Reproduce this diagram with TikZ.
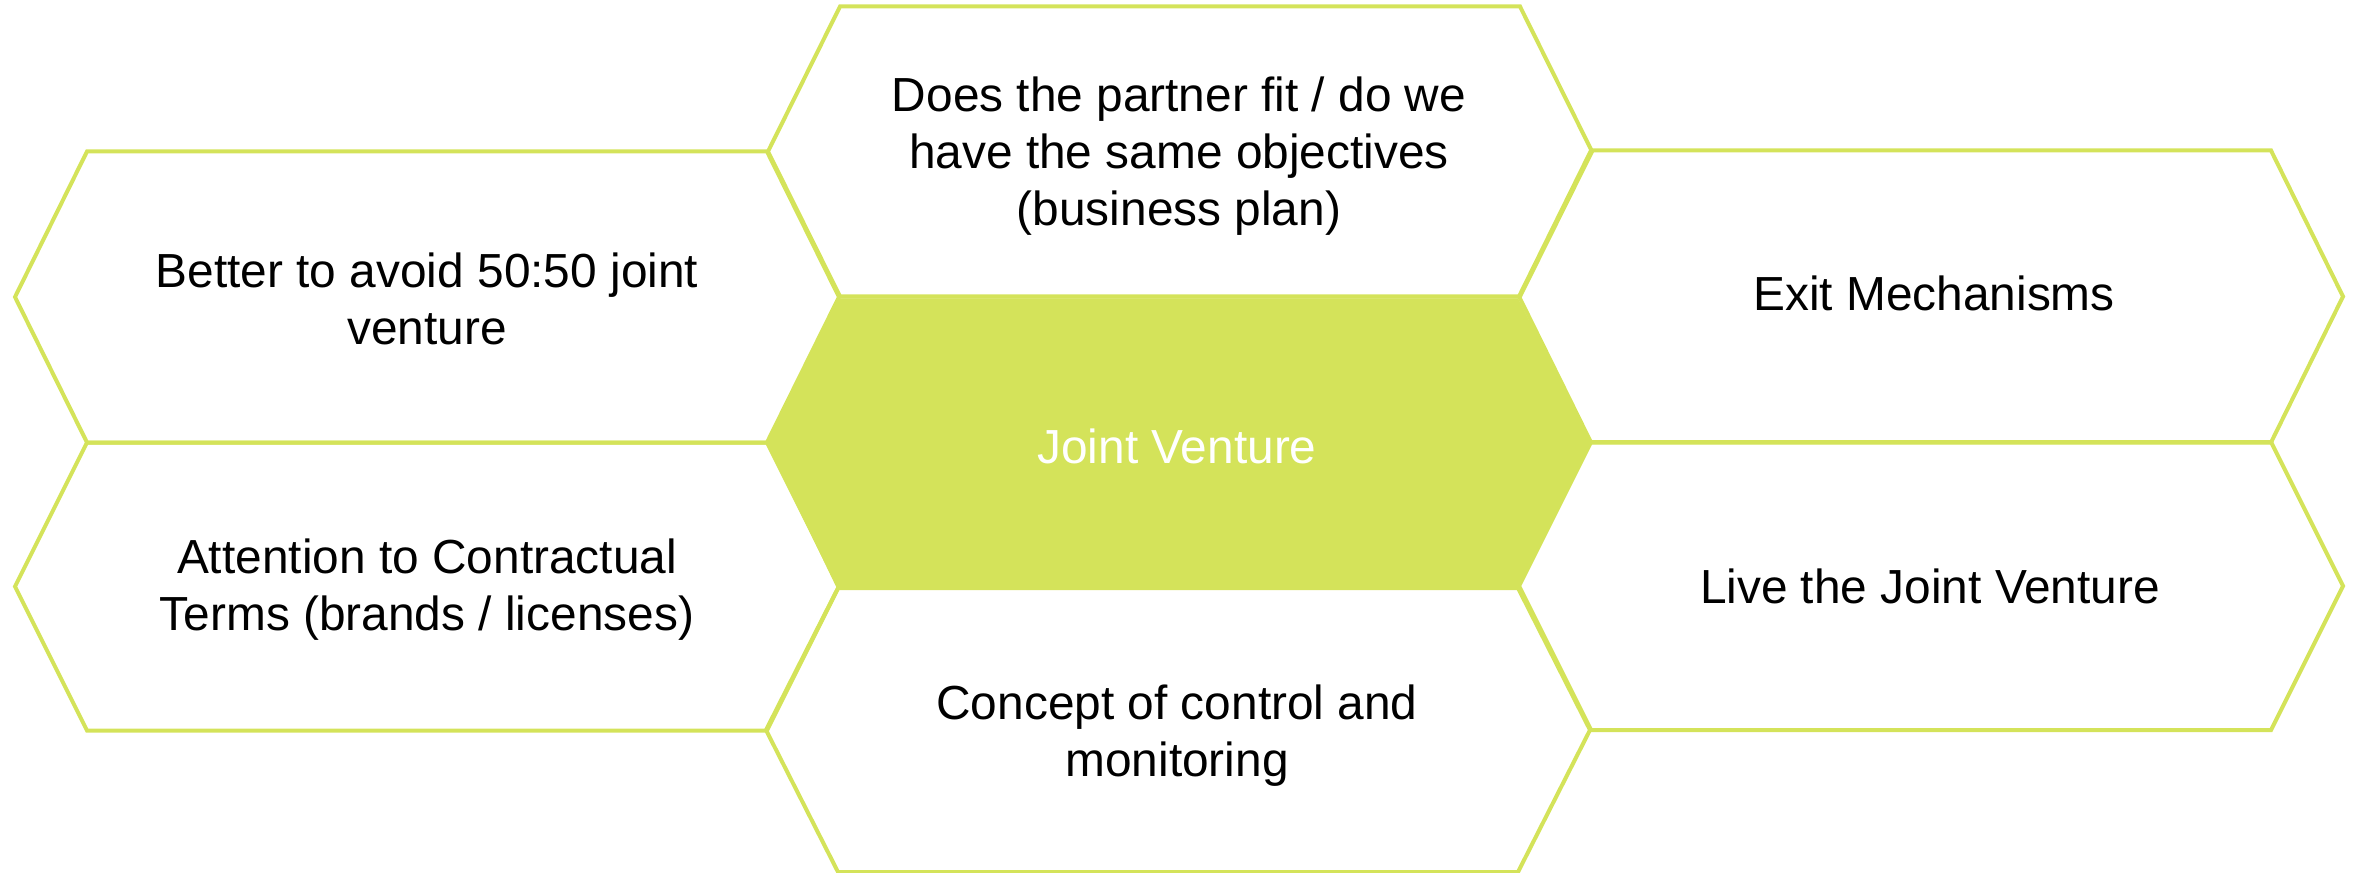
\documentclass[tikz,border=0pt]{standalone}
\usepackage{fontspec}
\setmainfont{Liberation Sans}
\definecolor{lime}{HTML}{D4E35A}
\begin{document}
\begin{tikzpicture}[x=0.01cm,y=-0.01cm,
    hexline/.style={draw=lime, line width=0.04cm},
    hexfill/.style={fill=lime},
    hexlabel/.style={align=center, font=\fontsize{13.6}{16.2}\selectfont}]
    \useasboundingbox (0,0) rectangle (2354,873);

    % outer ring: centre x / centre y / half height
    \foreach \cx/\cy/\h in {1180/151.5/145, 427/297/145.5, 1931/296.5/146, 427/586.5/144, 1931/586/144, 1178/730/142} {
      \draw[hexline] (\cx-412,\cy) -- (\cx-340,\cy-\h) -- (\cx+340,\cy-\h) -- (\cx+412,\cy) -- (\cx+340,\cy+\h) -- (\cx-340,\cy+\h) -- cycle;
    }

    % the filled hexagon in the middle, no outline
    \fill[hexfill] (766.5,442.5) -- (838,298.5) -- (1518,298.5) -- (1590,442.5) -- (1519,588.5) -- (837,588.5) -- cycle;

    \node[hexlabel] (partner) at (1179,156) {Does the partner fit / do we\\have the same objectives\\(business plan)};
    \node[hexlabel] (avoid) at (427,299) {Better to avoid 50:50 joint\\venture};
    \node[hexlabel] (exit) at (1934,293) {Exit Mechanisms};
    \node[hexlabel, text=white] (jv) at (1177,446) {Joint Venture};
    \node[hexlabel] (terms) at (427,590) {Attention to Contractual\\Terms (brands / licenses)};
    \node[hexlabel] (live) at (1930,586) {Live the Joint Venture};
    \node[hexlabel] (control) at (1177,736) {Concept of control and\\monitoring};
\end{tikzpicture}
\end{document}
